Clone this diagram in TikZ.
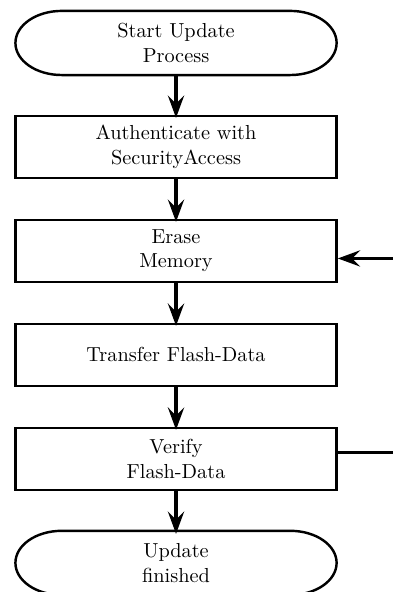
\documentclass[tikz,border=0pt]{standalone}
\usetikzlibrary{arrows.meta}
\tikzset{
    process/.style ={
        shape=rectangle,
        draw=black,
        line width=1.2pt,
        align=center,
        minimum width=5.56cm,
        minimum height=1.07cm
    },
    terminal/.style ={
        shape=rectangle,
        align=center,
        outer sep=0pt,
        minimum width=5.56cm,
        minimum height=1.11cm
    },
    flow/.style ={
        line width=1.6pt,
        shorten >=-1.5pt,
        -{Stealth[length=11pt,width=8pt,inset=4pt]}
    }
}

\begin{document}
\begin{tikzpicture}
    \clip (-3.047,0.744) rectangle (3.756,-9.504);
    \node[terminal] (start) at(0,0) {Start Update\\Process};
    \node[process] (auth) at(0,-1.8) {Authenticate with\\SecurityAccess};
    \node[process] (erase) at(0,-3.6) {Erase\\Memory};
    \node[process] (transfer) at(0,-5.4) {Transfer Flash-Data};
    \node[process] (verify) at(0,-7.2) {Verify\\Flash-Data};
    \node[terminal] (finish) at(0,-9.0) {Update\\finished};
    % stadium outlines of the terminals
    \foreach \t in {start,finish}
        \draw[line width=1.2pt,line join=round] ([xshift=0.8cm]\t.north west) -- ([xshift=-0.8cm]\t.north east)
            arc[start angle=90,end angle=-90,x radius=0.8cm,y radius=0.555cm]
            -- ([xshift=0.8cm]\t.south west)
            arc[start angle=270,end angle=90,x radius=0.8cm,y radius=0.555cm] -- cycle;
    \draw[flow] (start.south) -- (auth.north);
    \draw[flow] (auth.south) -- (erase.north);
    \draw[flow] (erase.south) -- (transfer.north);
    \draw[flow] (transfer.south) -- (verify.north);
    \draw[flow] (verify.south) -- (finish.north);
    % loop back from verify to erase
    \coordinate (back) at(4.4,-5.4);
    \draw[flow,shorten >=0pt] ([yshift=0.11cm]verify.east) -| (back) |- ([yshift=-0.13cm]erase.east);
\end{tikzpicture}
\end{document}
